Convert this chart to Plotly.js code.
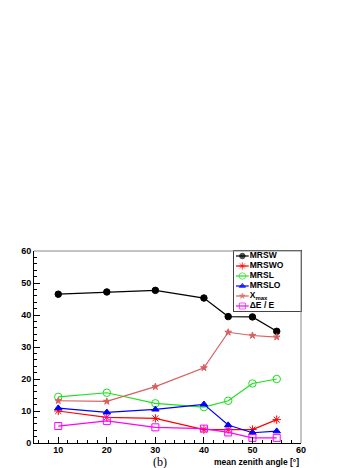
<!DOCTYPE html>
<html>
<head>
<meta charset="utf-8">
<script src="https://cdn.plot.ly/plotly-3.0.1.min.js"></script>
<style>
  body { margin: 0; background: white; }
  #grafico { width: 361px; height: 468px; }
</style>
</head>
<body>
<div id="grafico"></div>
<script>
// mean zenith angle [deg]
var angulos = [10, 20, 30, 40, 45, 50, 55];

var mrsw  = [46.5, 47.2, 47.7, 45.3, 39.5, 39.4, 34.9];
var mrswo = [10.0, 8.0, 7.7, 4.2, 4.2, 4.2, 7.3];
var mrsl  = [14.4, 15.7, 12.4, 11.2, 13.2, 18.6, 20.0];
var mrslo = [10.9, 9.6, 10.5, 12.1, 5.6, 3.2, 3.7];
var xmax  = [13.2, 13.0, 17.6, 23.5, 34.6, 33.6, 33.1];
var dee   = [5.3, 6.9, 4.9, 4.5, 3.3, 1.6, 1.6];

var nomes   = ['MRSW', 'MRSWO', 'MRSL', 'MRSLO', 'X<sub>max</sub>', '\u0394E / E'];
var series  = [mrsw, mrswo, mrsl, mrslo, xmax, dee];
var cores   = ['#000000', '#ff0000', '#1ee01e', '#0000ff', '#d95f5f', '#ff00ff'];
var simbolos = ['circle', 'asterisk-open', 'circle-open', 'triangle-up', 'star', 'square-open'];
var tamanhos = [6.5, 7, 7.5, 6.5, 5, 7];

var dados = [];

for (let i = 0; i < series.length; i++) {
    dados.push({
        x: angulos, y: series[i], mode: 'lines+markers', showlegend: false,
        line: {color: cores[i], width: 1.2},
        marker: {symbol: simbolos[i], size: tamanhos[i], color: cores[i],
                 line: {color: cores[i], width: 1}},
        hoverinfo: 'skip'
    });
}

// legenda desenhada num segundo subplot (estilo ROOT, linhas compactas)
for (let i = 0; i < nomes.length; i++) {
    dados.push({
        x: [2, 8.5, 15], y: [i, i, i], xaxis: 'x2', yaxis: 'y2',
        mode: 'lines+markers', showlegend: false, hoverinfo: 'skip',
        line: {color: cores[i], width: 1.2},
        marker: {symbol: simbolos[i], size: [0, tamanhos[i] - 1, 0], color: cores[i],
                 line: {color: cores[i], width: 1}}
    });
}
dados.push({
    x: nomes.map(() => 16), y: nomes.map((n, i) => i), text: nomes,
    xaxis: 'x2', yaxis: 'y2', mode: 'text', textposition: 'middle right',
    showlegend: false, hoverinfo: 'skip',
    textfont: {family: 'Liberation Sans', size: 8.5, weight: 'bold', color: 'black'}
});

var fonteTick = {family: 'Liberation Sans', size: 9, weight: 'bold', color: 'black'};

var layout = {
    width: 361, height: 468,
    margin: {l: 34, r: 60, t: 251, b: 25},
    paper_bgcolor: 'white', plot_bgcolor: 'white',
    xaxis: {
        range: [5, 60], tick0: 0, dtick: 10, showgrid: false, zeroline: false,
        showline: true, linecolor: 'black', linewidth: 1,
        ticks: 'inside', ticklen: 6, tickcolor: 'black', tickfont: fonteTick,
        ticklabelstandoff: -2,
        minor: {dtick: 2, ticks: 'inside', ticklen: 3, tickcolor: 'black', showgrid: false}
    },
    yaxis: {
        range: [0, 60], tick0: 0, dtick: 10, showgrid: false, zeroline: false,
        showline: true, linecolor: 'black', linewidth: 1,
        ticks: 'inside', ticklen: 6, tickcolor: 'black', tickfont: fonteTick,
        minor: {dtick: 2, ticks: 'inside', ticklen: 3, tickcolor: 'black', showgrid: false}
    },
    xaxis2: {
        domain: [0.749, 1.0], range: [0, 68], anchor: 'y2',
        showgrid: false, zeroline: false, showticklabels: false, ticks: '',
        showline: true, mirror: true, linecolor: '#444', linewidth: 1
    },
    yaxis2: {
        domain: [0.6875, 1.0], range: [5.5, -0.5], anchor: 'x2',
        showgrid: false, zeroline: false, showticklabels: false, ticks: '',
        showline: true, mirror: true, linecolor: '#444', linewidth: 1
    },
    shapes: [
        {type: 'line', xref: 'paper', yref: 'paper', x0: 0, x1: 1, y0: 1, y1: 1,
         line: {color: '#888', width: 1}},
        {type: 'line', xref: 'paper', yref: 'paper', x0: 1, x1: 1, y0: 0, y1: 1,
         line: {color: '#888', width: 1}}
    ],
    annotations: [
        {text: 'mean zenith angle [\u00b0]', xref: 'paper', yref: 'paper', x: 1, y: -0.098,
         xanchor: 'right', yanchor: 'middle', showarrow: false,
         font: {family: 'Liberation Sans', size: 8.5, weight: 'bold', color: 'black'}},
        {text: '(b)', xref: 'paper', yref: 'paper', x: 0.472, y: -0.098,
         xanchor: 'center', yanchor: 'middle', showarrow: false,
         font: {family: 'Liberation Serif', size: 12, color: 'black'}}
    ]
};

Plotly.newPlot('grafico', dados, layout, {staticPlot: true});
</script>
</body>
</html>
